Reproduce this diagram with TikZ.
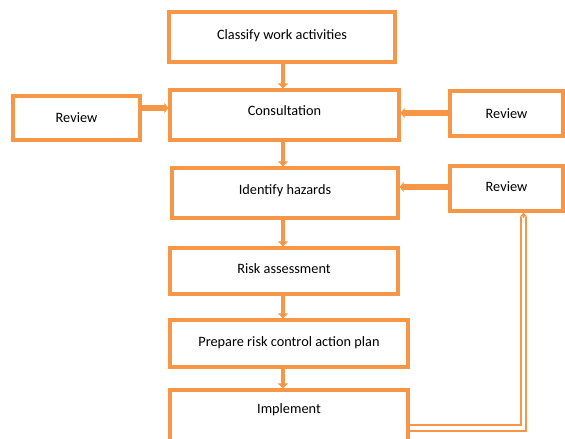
\documentclass[tikz,border=0pt]{standalone}
\usepackage{fontspec}
\setmainfont{Carlito}
\usetikzlibrary{arrows.meta}
\definecolor{org}{HTML}{F79646}
\begin{document}
\begin{tikzpicture}[x=1pt,y=-1pt,
  box/.style={draw=org,line width=3.2pt,fill=white,font=\fontsize{14.3}{16}\selectfont,inner sep=0pt},
  txt/.style={font=\fontsize{14.3}{16}\selectfont,inner sep=0pt},
  arr/.style={draw=org,line width=4pt,-{Triangle[length=5pt,width=10pt]}},
  harr/.style={draw=org,line width=5.5pt,-{Triangle[length=4pt,width=10pt]}},
  dbl/.style={draw=org,line width=2pt,double=white,double distance=3.2pt}]
\useasboundingbox (0,0) rectangle (565,439);
\clip (0,0) rectangle (565,439);
\node[box,minimum width=226pt,minimum height=50pt,text depth=5pt] (classify) at (282,37) {Classify work activities};
\node[box,minimum width=229pt,minimum height=50pt,text depth=8pt] (cons) at (284.5,115) {Consultation};
\node[box,minimum width=127pt,minimum height=44pt] (revL) at (76.5,118) {Review};
\node[box,minimum width=113pt,minimum height=45pt] (revR1) at (506.5,113.5) {Review};
\node[box,minimum width=226pt,minimum height=50pt,text depth=6pt] (ident) at (285,193) {Identify hazards};
\node[box,minimum width=113pt,minimum height=45pt,text depth=3pt] (revR2) at (506.5,188.5) {Review};
\node[box,minimum width=228pt,minimum height=46pt,text depth=4pt] (risk) at (284,271) {Risk assessment};
\node[box,minimum width=238pt,minimum height=47pt,text depth=4pt] (prep) at (289,343.5) {Prepare risk control action plan};
\node[box,minimum width=238pt,minimum height=56pt] (impl) at (289,418) {};
\node[txt] (impltxt) at (289,410) {Implement};
\coordinate (vx) at (283,0);
\draw[arr] (classify.south -| vx) -- (cons.north -| vx);
\draw[arr] (cons.south -| vx) -- (ident.north -| vx);
\draw[arr] (ident.south -| vx) -- (risk.north -| vx);
\draw[arr] (risk.south -| vx) -- (prep.north -| vx);
\draw[arr] (prep.south -| vx) -- (impl.north -| vx);
\coordinate (hl) at (0,108);
\draw[harr] (revL.east |- hl) -- (cons.west |- hl);
\coordinate (hr) at (0,113);
\draw[harr] (revR1.west |- hr) -- (cons.east |- hr);
\coordinate (hr2) at (0,187);
\draw[harr] (revR2.west |- hr2) -- (ident.east |- hr2);
\coordinate (c1) at (523.5,428);
\draw[dbl] (impl.east |- c1) -- (c1) -- ([yshift=-4pt]revR2.south -| c1);
\draw[org,line width=1.5pt,-{Triangle[length=4pt,width=7pt]}] ([yshift=-5pt]revR2.south -| c1) -- (revR2.south -| c1);
\end{tikzpicture}
\end{document}
